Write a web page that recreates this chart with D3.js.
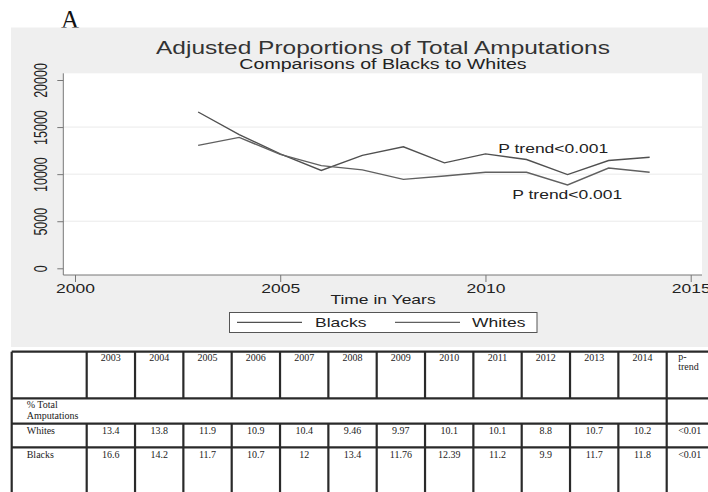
<!DOCTYPE html>
<html>
<head>
<meta charset="utf-8">
<script src="https://cdn.jsdelivr.net/npm/d3@7"></script>
<style>
  body { margin: 0; background: #fff; }
  svg { display: block; }
</style>
</head>
<body>
<div id="chart"></div>
<script>
// values
const years = [2003, 2004, 2005, 2006, 2007, 2008, 2009, 2010, 2011, 2012, 2013, 2014];
const blacksLine = [16600, 14200, 12150, 10400, 12000, 12900, 11200, 12150, 11550, 9950, 11450, 11800];
const whitesLine = [13050, 13900, 12100, 10900, 10450, 9450, 9800, 10200, 10200, 8850, 10650, 10200];
const yTicks = [0, 5000, 10000, 15000, 20000];
const xTicks = [2000, 2005, 2010, 2015];

// table below the chart
const tableYears = ["2003", "2004", "2005", "2006", "2007", "2008", "2009", "2010", "2011", "2012", "2013", "2014"];
const whitesPct = ["13.4", "13.8", "11.9", "10.9", "10.4", "9.46", "9.97", "10.1", "10.1", "8.8", "10.7", "10.2"];
const blacksPct = ["16.6", "14.2", "11.7", "10.7", "12", "13.4", "11.76", "12.39", "11.2", "9.9", "11.7", "11.8"];
const pTrend = ["<0.01", "<0.01"];

const W = 708, H = 492;
const K = 1.4; // the original figure is stretched sideways, text too

const svg = d3.select("#chart").append("svg")
    .attr("width", W)
    .attr("height", H);

// panel letter
svg.append("text")
    .attr("x", 61).attr("y", 28)
    .attr("font-family", "Liberation Serif, serif")
    .attr("font-size", 25)
    .attr("fill", "#111")
    .text("A");

// gray graph region
svg.append("rect")
    .attr("x", 11).attr("y", 27.5)
    .attr("width", W - 11).attr("height", 319.5)
    .attr("fill", "#efefef");

const plot = {left: 63.3, right: 702, top: 73.3, bottom: 275};

svg.append("rect")
    .attr("x", plot.left).attr("y", plot.top)
    .attr("width", plot.right - plot.left).attr("height", plot.bottom - plot.top)
    .attr("fill", "#fff");

const x = d3.scaleLinear().domain([2000, 2015]).range([75, 690.7]);
const y = d3.scaleLinear().domain([0, 20000]).range([268.3, 80]);

// helper for the wide stata text
function wideText(g, px, py, str, size, anchor) {
    return g.append("text")
        .attr("transform", "translate(" + px + "," + py + ") scale(" + K + ",1)")
        .attr("text-anchor", anchor || "start")
        .attr("font-family", "Liberation Sans, Arial, sans-serif")
        .attr("font-size", size)
        .attr("fill", "#222")
        .text(str);
}

// grid
svg.selectAll(".grid")
    .data(yTicks.filter(d => d > 0 && d < 20000))
    .enter().append("line")
    .attr("class", "grid")
    .attr("x1", plot.left).attr("x2", plot.right)
    .attr("y1", d => y(d)).attr("y2", d => y(d))
    .attr("stroke", "#eaeaea")
    .attr("stroke-width", 1);

// axis lines
svg.append("line")
    .attr("x1", plot.left).attr("x2", plot.left)
    .attr("y1", plot.top).attr("y2", plot.bottom)
    .attr("stroke", "#777");
svg.append("line")
    .attr("x1", plot.left).attr("x2", plot.right)
    .attr("y1", plot.bottom).attr("y2", plot.bottom)
    .attr("stroke", "#777");

const yAxis = svg.append("g")
    .attr("transform", "translate(" + plot.left + ",0)")
    .call(d3.axisLeft(y).tickValues(yTicks).tickSize(6).tickFormat(d3.format("d")));
yAxis.select(".domain").remove();
yAxis.selectAll(".tick line").attr("stroke", "#777");
yAxis.selectAll(".tick text")
    .attr("x", null).attr("dy", null)
    .attr("text-anchor", "middle")
    .attr("transform", "translate(-16.6,0) scale(" + K + ",1) rotate(-90)")
    .attr("font-family", "Liberation Sans, Arial, sans-serif")
    .attr("font-size", 12.5)
    .attr("fill", "#222");

const xAxis = svg.append("g")
    .attr("transform", "translate(0," + plot.bottom + ")")
    .call(d3.axisBottom(x).tickValues(xTicks).tickSize(7).tickFormat(d3.format("d")));
xAxis.select(".domain").remove();
xAxis.selectAll(".tick line").attr("stroke", "#777");
xAxis.selectAll(".tick text")
    .attr("y", null).attr("dy", null)
    .attr("transform", "translate(0,18) scale(" + K + ",1)")
    .attr("font-family", "Liberation Sans, Arial, sans-serif")
    .attr("font-size", 12.5)
    .attr("fill", "#222");

// the two series
const line = d3.line()
    .x((d, i) => x(years[i]))
    .y(d => y(d));

svg.append("path")
    .datum(blacksLine)
    .attr("d", line)
    .attr("fill", "none")
    .attr("stroke", "#505050")
    .attr("stroke-width", 1.4);

svg.append("path")
    .datum(whitesLine)
    .attr("d", line)
    .attr("fill", "none")
    .attr("stroke", "#606060")
    .attr("stroke-width", 1.4);

wideText(svg, 498.3, 153.3, "P trend<0.001", 12.5);
wideText(svg, 512.3, 199, "P trend<0.001", 12.5);

// titles
wideText(svg, 383, 54, "Adjusted Proportions of Total Amputations", 17.5, "middle").attr("fill", "#333");
wideText(svg, 383, 69, "Comparisons of Blacks to Whites", 14, "middle");
wideText(svg, 383, 303.5, "Time in Years", 12.5, "middle");

// legend
svg.append("rect")
    .attr("x", 229.5).attr("y", 312.5)
    .attr("width", 307.5).attr("height", 20)
    .attr("fill", "#fff")
    .attr("stroke", "#555");

const legendItems = [
    {name: "Blacks", x1: 237, x2: 302, tx: 315, color: "#505050"},
    {name: "Whites", x1: 395, x2: 460, tx: 472, color: "#606060"}
];
legendItems.forEach(function (d) {
    svg.append("line")
        .attr("x1", d.x1).attr("x2", d.x2)
        .attr("y1", 322.3).attr("y2", 322.3)
        .attr("stroke", d.color)
        .attr("stroke-width", 1.2);
    wideText(svg, d.tx, 327, d.name, 12.5);
});

// ---- table ----
const tLeft = 11.7, firstCol = 86.7, yearsRight = 666.7, tRight = 716;
const rows = [351.7, 398.3, 423.7, 447.3, 505];

const col = d3.scaleBand()
    .domain(tableYears)
    .range([firstCol, yearsRight]);

const table = svg.append("g")
    .attr("font-family", "Liberation Serif, Times New Roman, serif")
    .attr("font-size", 10)
    .attr("fill", "#222");

const borderColor = "#2a2a2a";
const bw = 2.2;

// horizontal rules
rows.forEach(function (ry) {
    table.append("line")
        .attr("x1", tLeft).attr("x2", tRight)
        .attr("y1", ry).attr("y2", ry)
        .attr("stroke", borderColor).attr("stroke-width", bw);
});

// vertical rules: the outer left, the year columns and the p-trend column
const vEdges = [tLeft, firstCol].concat(tableYears.map(d => col(d) + col.bandwidth()));
vEdges.forEach(function (vx, i) {
    const last = i === vEdges.length - 1;
    const inner = i > 0 && !last;
    // the "% Total Amputations" row spans all year columns
    if (inner) {
        table.append("line")
            .attr("x1", vx).attr("x2", vx)
            .attr("y1", rows[0]).attr("y2", rows[1])
            .attr("stroke", borderColor).attr("stroke-width", bw);
        table.append("line")
            .attr("x1", vx).attr("x2", vx)
            .attr("y1", rows[2]).attr("y2", rows[4])
            .attr("stroke", borderColor).attr("stroke-width", bw);
    } else {
        table.append("line")
            .attr("x1", vx).attr("x2", vx)
            .attr("y1", rows[0]).attr("y2", rows[4])
            .attr("stroke", borderColor).attr("stroke-width", bw);
    }
});

const mid = d => col(d) + col.bandwidth() / 2;

table.selectAll(".hdr")
    .data(tableYears)
    .enter().append("text")
    .attr("x", d => mid(d)).attr("y", 361)
    .attr("text-anchor", "middle")
    .text(d => d);

table.selectAll(".wv")
    .data(whitesPct)
    .enter().append("text")
    .attr("x", (d, i) => mid(tableYears[i])).attr("y", 433.5)
    .attr("text-anchor", "middle")
    .text(d => d);

table.selectAll(".bv")
    .data(blacksPct)
    .enter().append("text")
    .attr("x", (d, i) => mid(tableYears[i])).attr("y", 457.5)
    .attr("text-anchor", "middle")
    .text(d => d);

const pX = yearsRight + 11.5;
table.append("text").attr("x", pX).attr("y", 360).text("p-");
table.append("text").attr("x", pX).attr("y", 370).text("trend");
table.append("text").attr("x", pX).attr("y", 433.5).text(pTrend[0]);
table.append("text").attr("x", pX).attr("y", 457.5).text(pTrend[1]);

table.append("text").attr("x", 26.7).attr("y", 407.5).text("% Total");
table.append("text").attr("x", 26.7).attr("y", 418.5).text("Amputations");
table.append("text").attr("x", 26.7).attr("y", 433.5).text("Whites");
table.append("text").attr("x", 26.7).attr("y", 457.5).text("Blacks");
</script>
</body>
</html>
